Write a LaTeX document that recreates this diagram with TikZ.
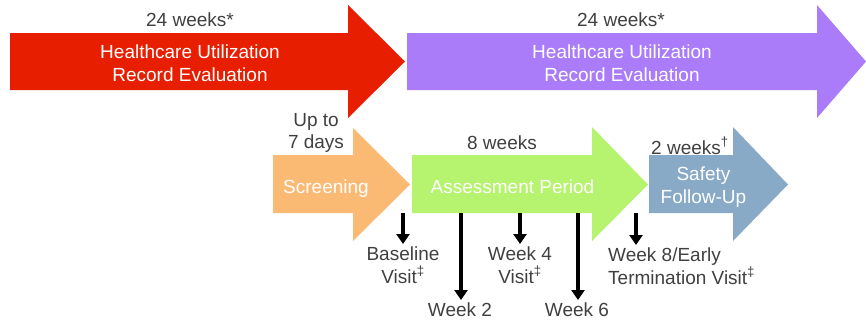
\documentclass[tikz,border=0pt]{standalone}
\usepackage{fontspec}
\setmainfont{Liberation Sans}
\usetikzlibrary{arrows.meta}

\definecolor{phaseRed}{RGB}{232,30,0}
\definecolor{phasePurple}{RGB}{170,124,250}
\definecolor{phaseOrange}{RGB}{251,186,116}
\definecolor{phaseGreen}{RGB}{182,243,110}
\definecolor{phaseBlue}{RGB}{136,170,198}
\definecolor{labelgray}{RGB}{64,64,64}

\begin{document}
\begin{tikzpicture}[x=1bp,y=-1bp,
  lbl/.style={inner sep=0pt, anchor=north, text=labelgray,
    font=\fontsize{19bp}{22.5bp}\selectfont, align=center},
  inlbl/.style={lbl, text=white},
  drop/.style={line width=4bp, black, shorten >=3bp,
    -{Triangle[width=13bp,length=10bp]}},
]
\useasboundingbox (0,0) rectangle (866,324);

% --- long-term record evaluation phases
\fill[phaseRed] (10,33) -- (348,33) -- (348,5) -- (405,61.5) -- (348,118)
  -- (348,90) -- (10,90) -- cycle;
\fill[phasePurple] (407,33) -- (817,33) -- (817,5) -- (866,61.5) -- (817,118)
  -- (817,90) -- (407,90) -- cycle;

% --- study visit phases
\fill[phaseOrange] (273,155) -- (353,155) -- (353,128) -- (410,184.5)
  -- (353,241) -- (353,213) -- (273,213) -- cycle;
\fill[phaseGreen] (412,155) -- (592,155) -- (592,127) -- (648,184.5)
  -- (592,241) -- (592,213) -- (412,213) -- cycle;
\fill[phaseBlue] (649,155) -- (733,155) -- (733,127) -- (788,184.5)
  -- (733,241) -- (733,213) -- (649,213) -- cycle;

% --- durations above the phases
\node[lbl] (redDur)    at (190,13)  {24 weeks*};
\node[lbl] (purpleDur) at (621,13)  {24 weeks*};
\node[lbl] (screenDur) at (316,113) {Up to\\7 days};
\node[lbl] (assessDur) at (502,136) {8 weeks};
\node[lbl] (safetyDur) at (690,137) {2 weeks\textsuperscript{†}};

% --- phase names
\node[inlbl] (redName)    at (190,45)    {Healthcare Utilization\\Record Evaluation};
\node[inlbl] (purpleName) at (622,45)    {Healthcare Utilization\\Record Evaluation};
\node[inlbl] (screening)  at (326,180)   {Screening};
\node[inlbl] (assessment) at (512.5,180) {Assessment Period};
\node[inlbl] (safety)     at (703.5,167) {Safety\\Follow-Up};

% --- visit labels
\node[lbl] (baseline) at (403,247) {Baseline\\Visit\textsuperscript{‡}};
\node[lbl] (wk2)      at (460,303) {Week 2};
\node[lbl] (wk4)      at (520,247) {Week 4\\Visit\textsuperscript{‡}};
\node[lbl] (wk6)      at (577,303) {Week 6};
\node[lbl, align=left, anchor=north west] (wk8) at (608,248)
  {Week 8/Early\\Termination Visit\textsuperscript{‡}};

% --- visit markers leaving the bottom edge of the phases
\coordinate (m0) at (403,213);
\coordinate (m2) at (461,213);
\coordinate (m4) at (520,213);
\coordinate (m6) at (578,213);
\coordinate (m8) at (636,213);

\draw[drop] (m0) -- (m0 |- baseline.north);
\draw[drop] (m2) -- (m2 |- wk2.north);
\draw[drop] (m4) -- (m4 |- wk4.north);
\draw[drop] (m6) -- (m6 |- wk6.north);
\draw[drop] (m8) -- (m8 |- wk8.north);
\end{tikzpicture}
\end{document}
